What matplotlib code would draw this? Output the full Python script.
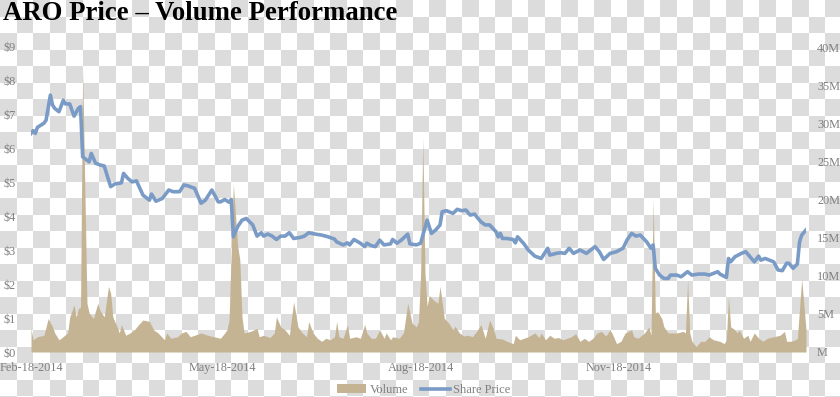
"""ARO share price vs. daily volume, Feb-2014 .. Feb-2015."""

import matplotlib

matplotlib.use("Agg")
import matplotlib.dates as mdates  # noqa: E402
import matplotlib.pyplot as plt  # noqa: E402
import numpy as np  # noqa: E402
from matplotlib.ticker import FuncFormatter, MultipleLocator  # noqa: E402

START = np.datetime64("2014-02-18")
END_DAY = 360

# share price ($), keyed by days since Feb-18-2014
price_day = [
    0, 1, 2, 3, 6, 7, 9, 10, 11, 13, 15, 16, 18, 20, 22, 23, 24, 27, 28, 30,
    32, 34, 37, 39, 42, 43, 45, 47, 49, 52, 55, 56, 58, 61, 64, 66, 69, 71, 73, 76,
    79, 81, 84, 87, 88, 90, 92, 93, 94, 96, 98, 100, 103, 105, 107, 108, 110, 112, 114, 116,
    118, 120, 122, 125, 127, 129, 132, 135, 138, 141, 142, 145, 147, 148, 150, 153, 155, 156, 158, 160,
    162, 164, 167, 168, 170, 172, 175, 176, 179, 181, 184, 186, 188, 190, 191, 193, 196, 198, 200, 202,
    204, 206, 209, 211, 213, 216, 217, 218, 219, 221, 224, 225, 226, 229, 231, 234, 237, 240, 241, 244,
    246, 248, 250, 252, 255, 258, 262, 264, 266, 269, 272, 274, 275, 277, 279, 281, 283, 286, 288, 289,
    290, 292, 294, 296, 297, 300, 302, 305, 307, 310, 313, 315, 317, 319, 320, 323, 324, 325, 327, 330,
    332, 334, 336, 338, 339, 341, 345, 347, 349, 351, 352, 354, 356, 357, 358, 360,
]
price = [
    6.45, 6.53, 6.45, 6.63, 6.75, 6.84, 7.58, 7.29, 7.19, 7.09, 7.43, 7.32, 7.32, 6.96, 7.19, 7.24, 5.76, 5.61, 5.86, 5.57,
    5.52, 5.49, 4.88, 4.96, 4.99, 5.27, 5.12, 5.02, 5.05, 4.63, 4.48, 4.66, 4.45, 4.53, 4.78, 4.73, 4.73, 4.93, 4.90, 4.83,
    4.39, 4.48, 4.78, 4.43, 4.43, 4.50, 4.42, 4.50, 3.40, 3.70, 3.89, 3.94, 3.75, 3.42, 3.52, 3.42, 3.48, 3.42, 3.32, 3.42,
    3.42, 3.52, 3.35, 3.38, 3.42, 3.52, 3.48, 3.45, 3.40, 3.33, 3.25, 3.16, 3.22, 3.16, 3.32, 3.21, 3.11, 3.21, 3.14, 3.11,
    3.30, 3.16, 3.19, 3.32, 3.21, 3.30, 3.48, 3.19, 3.16, 3.21, 3.89, 3.50, 3.60, 3.75, 4.14, 4.17, 4.09, 4.21, 4.17, 4.19,
    4.04, 4.07, 3.84, 3.75, 3.75, 3.55, 3.40, 3.50, 3.35, 3.35, 3.32, 3.22, 3.40, 3.19, 3.01, 2.83, 2.76, 3.06, 2.86, 2.91,
    2.93, 2.91, 3.06, 2.91, 3.01, 2.91, 3.11, 2.96, 2.73, 2.91, 2.96, 3.03, 3.06, 3.32, 3.50, 3.42, 3.45, 3.25, 3.06, 3.16,
    2.47, 2.27, 2.17, 2.17, 2.27, 2.27, 2.22, 2.37, 2.27, 2.30, 2.30, 2.27, 2.32, 2.37, 2.30, 2.20, 2.76, 2.66, 2.81, 2.91,
    2.96, 2.81, 2.66, 2.83, 2.71, 2.76, 2.66, 2.42, 2.40, 2.62, 2.62, 2.47, 2.60, 3.25, 3.45, 3.60,
]

# daily volume (millions of shares), keyed the same way
volume_day = [
    0, 1, 3, 6, 8, 10, 11, 13, 14, 17, 18, 20, 21, 22, 23, 24, 26, 27, 29, 31,
    32, 34, 36, 37, 38, 40, 41, 42, 44, 46, 48, 50, 52, 55, 57, 59, 62, 63, 65, 68,
    70, 72, 74, 76, 79, 82, 85, 88, 90, 91, 92, 94, 96, 97, 98, 99, 102, 105, 106, 108,
    111, 113, 114, 116, 118, 120, 122, 124, 126, 128, 129, 131, 133, 135, 137, 139, 141, 142, 143, 145,
    147, 148, 151, 153, 155, 156, 158, 160, 162, 164, 165, 167, 168, 171, 173, 175, 177, 179, 180, 181,
    182, 183, 184, 185, 187, 189, 190, 192, 194, 196, 197, 199, 201, 203, 205, 207, 209, 211, 213, 215,
    216, 219, 221, 224, 225, 227, 229, 231, 234, 236, 237, 239, 241, 243, 245, 247, 249, 251, 253, 255,
    257, 259, 261, 263, 265, 267, 269, 270, 272, 274, 276, 279, 280, 282, 285, 287, 288, 289, 290, 291,
    293, 294, 296, 298, 300, 303, 304, 305, 306, 307, 309, 311, 313, 315, 317, 320, 322, 323, 324, 325,
    327, 328, 329, 331, 333, 334, 336, 338, 340, 342, 345, 348, 350, 351, 353, 355, 356, 358, 360,
]
volume = [
    3.1, 1.6, 2.0, 2.2, 4.4, 3.3, 2.5, 1.6, 1.8, 2.5, 4.6, 6.2, 4.6, 5.7, 5.9, 37.0, 6.4, 5.1, 4.4, 6.4,
    5.5, 4.6, 8.6, 7.7, 4.6, 3.3, 2.5, 3.6, 2.2, 2.5, 2.9, 3.6, 4.2, 4.0, 2.9, 2.5, 1.6, 2.5, 1.8, 2.0,
    2.5, 2.7, 2.0, 2.2, 2.5, 2.2, 2.0, 1.8, 2.5, 2.9, 4.2, 22.0, 13.9, 12.1, 4.6, 2.5, 2.7, 3.1, 2.0, 2.2,
    1.9, 2.5, 4.6, 3.3, 2.9, 2.2, 6.6, 3.3, 2.5, 2.0, 4.0, 2.5, 1.8, 1.4, 1.8, 1.6, 2.0, 4.0, 2.0, 1.8,
    3.6, 1.8, 2.0, 1.8, 3.6, 2.5, 1.8, 1.8, 2.9, 1.8, 2.5, 1.6, 2.0, 1.8, 2.5, 6.4, 3.8, 3.3, 4.0, 10.4,
    28.1, 10.4, 6.0, 7.4, 6.8, 6.4, 8.6, 4.4, 3.8, 2.9, 3.4, 2.5, 2.1, 2.2, 2.0, 2.7, 3.6, 1.8, 4.2, 2.9,
    1.8, 1.7, 1.4, 1.1, 2.2, 1.6, 1.8, 2.0, 2.5, 1.9, 2.5, 1.6, 2.2, 1.8, 1.9, 1.6, 1.8, 2.0, 2.4, 1.4,
    1.8, 1.4, 1.8, 2.5, 2.7, 2.1, 2.9, 2.4, 1.1, 1.4, 2.5, 2.9, 2.0, 1.8, 2.5, 3.3, 2.2, 20.0, 5.1, 5.3,
    4.4, 3.3, 2.5, 2.5, 2.5, 2.7, 2.5, 9.5, 2.5, 1.4, 0.7, 1.4, 1.4, 2.0, 1.6, 1.4, 1.1, 1.6, 7.3, 3.3,
    2.9, 2.5, 2.9, 1.8, 2.2, 1.4, 2.5, 1.8, 1.4, 1.8, 2.0, 2.2, 2.7, 1.4, 1.4, 1.6, 1.8, 9.6, 2.9,
]

tick_dates = ["2014-02-18", "2014-05-18", "2014-08-18", "2014-11-18"]

PRICE_COLOR = "#7b9bc7"
VOLUME_COLOR = "#c5b493"
LABEL_COLOR = "#7f7f7f"
SERIF = ["Liberation Serif", "DejaVu Serif"]

W, H = 840, 397
fig = plt.figure(figsize=(W / 100, H / 100), dpi=100)

# transparent-png checkerboard behind everything
rows, cols = np.indices((H, W))
checker = ((rows // 16.5 + cols // 16.5) % 2 == 0)
bg = np.where(checker[..., None], 0.865, 1.0) * np.ones((H, W, 3))
fig.figimage(bg, xo=0, yo=0, origin="upper", zorder=-10)

ax = fig.add_axes([31 / W, 1 - 352 / H, 775 / W, 305 / H])
ax2 = ax.twinx()
ax.set_zorder(ax2.get_zorder() + 1)
for a in (ax, ax2):
    a.patch.set_visible(False)
    for s in a.spines.values():
        s.set_visible(False)

vdates = START + np.array(volume_day, dtype="timedelta64[D]")
pdates = START + np.array(price_day, dtype="timedelta64[D]")
vol_art = ax2.fill_between(vdates, 0, np.array(volume) * 1e6, color=VOLUME_COLOR,
                           lw=0, label="Volume")
(price_art,) = ax.plot(pdates, price, color=PRICE_COLOR, lw=2.6,
                       solid_joinstyle="round", label="Share Price")

ax.set_xlim(START, START + np.timedelta64(END_DAY, "D"))
ax.set_ylim(0, 9)
ax2.set_ylim(0, 40e6)
ax.yaxis.set_major_locator(MultipleLocator(1))
ax.yaxis.set_major_formatter(FuncFormatter(lambda v, _: f"${v:.0f}"))
ax2.yaxis.set_major_locator(MultipleLocator(5e6))
ax2.yaxis.set_major_formatter(
    FuncFormatter(lambda v, _: f"{int(round(v / 1e6)) or ''}M"))
ax.set_xticks(np.array(tick_dates, dtype="datetime64[D]"))
ax.xaxis.set_major_formatter(mdates.DateFormatter("%b-%d-%Y"))

ax.tick_params(axis="y", length=0, pad=11, labelcolor=LABEL_COLOR)
ax2.tick_params(axis="y", length=0, pad=8, labelcolor=LABEL_COLOR)
ax.tick_params(axis="x", length=0, pad=7, labelcolor=LABEL_COLOR)
for lab in ax.get_xticklabels() + ax.get_yticklabels() + ax2.get_yticklabels():
    lab.set_fontfamily(SERIF)
    lab.set_fontsize(8.8)

fig.text(3 / W, 1 - 19.5 / H, "ARO Price \u2013 Volume Performance",
         family=SERIF, fontsize=19.3, fontweight="bold", color="black",
         ha="left", va="baseline")

fig.legend(handles=[vol_art, price_art], loc="center",
           bbox_to_anchor=(424 / W, 1 - 390 / H), ncol=2, frameon=False,
           prop={"family": SERIF, "size": 9}, handlelength=2.3,
           handletextpad=0.3, columnspacing=1.0, labelcolor=LABEL_COLOR)

fig.savefig("out.png", dpi=100)
plt.close(fig)
